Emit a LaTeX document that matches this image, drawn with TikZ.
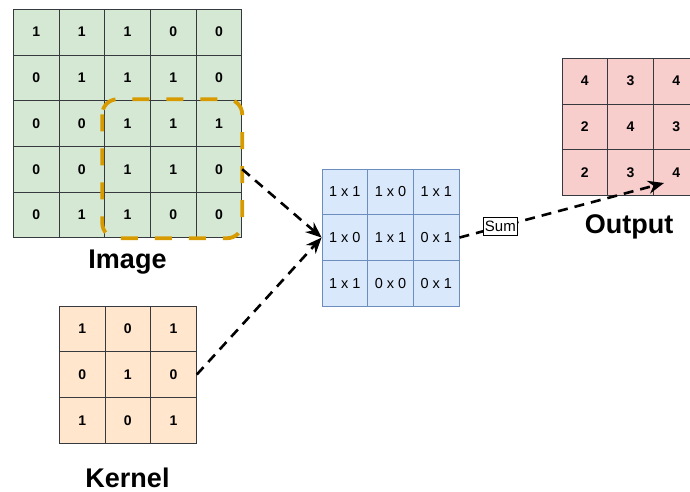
\documentclass[tikz,border=0pt]{standalone}
\usepackage{fontspec}
\setmainfont{Liberation Sans}
\usetikzlibrary{arrows.meta}
\definecolor{imgfill}{HTML}{D5E8D4}
\definecolor{kerfill}{HTML}{FFE6CC}
\definecolor{mulfill}{HTML}{DAE8FC}
\definecolor{mulline}{HTML}{6C8EBF}
\definecolor{outfill}{HTML}{F8CECC}
\definecolor{cellline}{HTML}{36393D}
\definecolor{window}{HTML}{D79B00}
\tikzset{
    cell/.style={draw=cellline,line width=0.8pt,minimum size=45.7pt,inner sep=0pt,
        font=\fontsize{14}{16}\selectfont\bfseries},
    imgcell/.style={cell,fill=imgfill},
    kercell/.style={cell,fill=kerfill},
    outcell/.style={cell,fill=outfill},
    mulcell/.style={cell,draw=mulline,fill=mulfill,font=\fontsize{14.5}{16}\selectfont},
    caption/.style={font=\fontsize{27}{31}\selectfont\bfseries},
    flow/.style={line width=2.6pt,dash pattern=on 10pt off 7pt,
        -{Stealth[length=16pt,width=13pt]}},
    sumbox/.style={draw,line width=0.7pt,fill=white,solid,inner xsep=1.5pt,inner ysep=3.5pt,
        font=\fontsize{15}{16}\selectfont},
}
\begin{document}
\begin{tikzpicture}[x=1pt,y=-1pt]
        \clip (0,0) rectangle (690,492);
        \fill[white] (0,0) rectangle (690,492);
        % input image
        \foreach \row [count=\r] in {{1,1,1,0,0},{0,1,1,1,0},{0,0,1,1,1},{0,0,1,1,0},{0,1,1,0,0}}
            \foreach \v [count=\c] in \row
                \node[imgcell] (img-\r-\c) at (13.3+45.7*\c-22.85,9.3+45.7*\r-22.85) {\v};
        \node[caption] (imglabel) at (127.5,262) {Image};
        % kernel
        \foreach \row [count=\r] in {{1,0,1},{0,1,0},{1,0,1}}
            \foreach \v [count=\c] in \row
                \node[kercell] (ker-\r-\c) at (59.3+45.7*\c-22.85,306+45.7*\r-22.85) {\v};
        \node[caption] (kerlabel) at (127.5,478) {Kernel};
        % products
        \foreach \row [count=\r] in {{1 x 1,1 x 0,1 x 1},{1 x 0,1 x 1,0 x 1},{1 x 1,0 x 0,0 x 1}}
            \foreach \v [count=\c] in \row
                \node[mulcell] (mul-\r-\c) at (322+45.7*\c-22.85,169+45.7*\r-22.85) {\v};
        % output
        \foreach \row [count=\r] in {{4,3,4},{2,4,3},{2,3,4}}
            \foreach \v [count=\c] in \row
                \node[outcell] (out-\r-\c) at (562+45.7*\c-22.85,58.3+45.7*\r-22.85) {\v};
        \node[caption] (outlabel) at (629,227) {Output};
        % sliding window
        \draw[window,line width=3.8pt,dash pattern=on 17pt off 17pt,rounded corners=15pt]
            (img-3-3.north west) ++(-2,-1) rectangle (img-5-5.south east);
        \coordinate (outtip) at (664,183);
        \draw[flow] (img-4-5.east) -- (mul-2-1.west);
        \draw[flow] (ker-2-3.east) -- (mul-2-1.west);
        \draw[flow] (mul-2-3.east) -- node[pos=0.2,sumbox] (sum) {Sum} (outtip);
    \end{tikzpicture}
\end{document}
